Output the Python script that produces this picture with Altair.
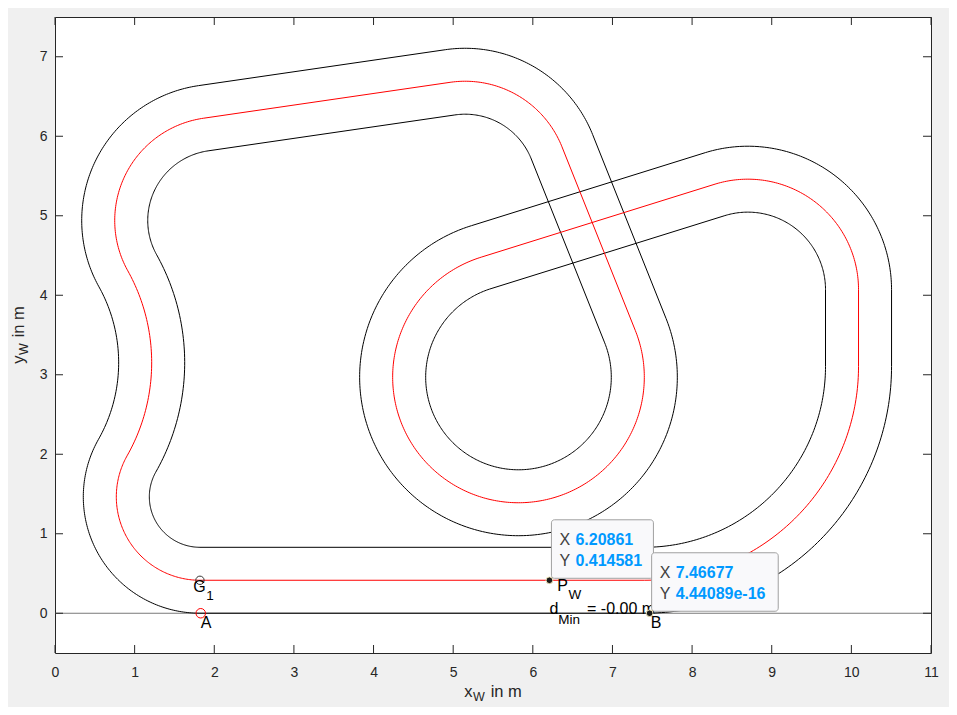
import numpy as np
import pandas as pd
import altair as alt

# ---------------- values ----------------
HALF_WIDTH = 0.414581          # centre line to lane edge (m)

# centre-line arcs in driving order: centre x, centre y, radius, start / end angle (deg)
# (end > start: counter-clockwise, end < start: clockwise; straights join the arcs)
ARC_CX = [7.40, 8.70, 5.82, 5.15, 2.05, -1.163, 1.82]
ARC_CY = [3.105, 4.07, 2.97, 5.383, 4.94, 3.152, 1.465]
ARC_R = [2.69, 1.39, 1.58, 1.309, 1.30, 2.377, 1.05]
ARC_START = [270.0, 0.0, 107.2, 21.7, 98.3, 29.1, 150.5]
ARC_END = [360.0, 107.2, 381.7, 98.3, 209.1, -29.5, 270.0]

POINT_A = [1.83, 0.0]
POINT_G1 = [1.82, 0.414581]
POINT_PW = [6.20861, 0.414581]
POINT_B = [7.46677, 4.44089e-16]
D_MIN_TEXT = "-0.00"

X_TICKS = [0, 1, 2, 3, 4, 5, 6, 7, 8, 9, 10, 11]
Y_TICKS = [0, 1, 2, 3, 4, 5, 6, 7]
X_RANGE = [0, 11]
Y_RANGE = [-0.5, 7.5]

# ---------------- styling ----------------
FONT = "Liberation Sans"
AXIS_COLOR = "#262626"
W, H = 876, 636
TICK_LEN = 8
NB = "\u00a0"

XS = alt.Scale(domain=X_RANGE, nice=False, zero=False)
YS = alt.Scale(domain=Y_RANGE, nice=False, zero=False)
XA = alt.Axis(values=X_TICKS, ticks=False, tickSize=0, domain=False, grid=False,
              labelFont=FONT, labelFontSize=14, labelColor=AXIS_COLOR, labelPadding=12,
              labelFlush=False, labelOverlap=False, title=None, format="d")
YA = alt.Axis(values=Y_TICKS, ticks=False, tickSize=0, domain=False, grid=False,
              labelFont=FONT, labelFontSize=14, labelColor=AXIS_COLOR, labelPadding=8,
              labelFlush=False, labelOverlap=False, title=None, format="d")


def ex(f="x"):
    return alt.X(f"{f}:Q", scale=XS, axis=XA)


def ey(f="y"):
    return alt.Y(f"{f}:Q", scale=YS, axis=YA)


def pt(p):
    return pd.DataFrame({"x": [p[0]], "y": [p[1]]})


# ---------------- track geometry (centre line and both edges) ----------------
rows = []
for name, side in [("left", 1), ("right", -1), ("centre", 0)]:
    k = 0
    first = None
    for cx, cy, r, a0, a1 in zip(ARC_CX, ARC_CY, ARC_R, ARC_START, ARC_END):
        d = 1 if a1 > a0 else -1
        rad = r - side * d * HALF_WIDTH
        n = int(abs(a1 - a0) / 1.0) + 2
        for a in np.linspace(a0, a1, n):
            t = np.radians(a)
            row = {"line": name, "i": k, "x": cx + rad * np.cos(t), "y": cy + rad * np.sin(t)}
            if first is None:
                first = dict(row)
            rows.append(row)
            k += 1
    first["i"] = k
    rows.append(first)
track_df = pd.DataFrame(rows)

layers = []

# zero line
layers.append(alt.Chart(pd.DataFrame({"y": [0.0]})).mark_rule(color="#7a7a7a", strokeWidth=1)
              .encode(y=ey()))

# track
layers.append(alt.Chart(track_df).mark_line(strokeWidth=1, clip=True).encode(
    x=ex(), y=ey(), order="i:Q", detail="line:N",
    color=alt.Color("line:N", scale=alt.Scale(domain=["left", "right", "centre"],
                                              range=["#000000", "#000000", "#ff0000"]),
                    legend=None)))

# markers A and G1
layers.append(alt.Chart(pt(POINT_A)).mark_point(shape="circle", size=90, filled=False,
                                                 color="#ff0000", strokeWidth=1, opacity=1)
              .encode(x=ex(), y=ey()))
layers.append(alt.Chart(pt(POINT_G1)).mark_point(shape="circle", size=70, filled=False,
                                                  color="#333333", strokeWidth=1, opacity=1)
              .encode(x=ex(), y=ey()))

# text width helper (Arial / Liberation Sans metrics)
CW = {"x": .5, "y": .5, "W": .944, " ": .278, NB: .278, "i": .222, "n": .556, "m": .833,
      "P": .667, "d": .556, "M": .833, "=": .584, "-": .333, "0": .556, ".": .278,
      "G": .778, "1": .556, "A": .667, "B": .667}


def tw(s, size):
    return sum(CW.get(c, .556) for c in s) * size


def rich(df, enc, pieces, dx0, dy0, angle=0, color="#000000"):
    """pieces: (text, font size, baseline shift, extra gap before)"""
    out = []
    dx = dx0
    for s, size, ddy, gap in pieces:
        dx += gap
        out.append(alt.Chart(df).mark_text(text=s, align="left", baseline="alphabetic",
                                           dx=dx, dy=dy0 + ddy, font=FONT, fontSize=size,
                                           color=color, angle=angle).encode(**enc))
        dx += tw(s, size)
    return out


ENC = dict(x=ex(), y=ey())
layers += rich(pt(POINT_A), ENC, [("A", 16, 0, 0)], 0, 14.3)
layers += rich(pt(POINT_B), ENC, [("B", 16, 0, 0)], 1, 14.3)
layers += rich(pt(POINT_G1), ENC, [("G", 16, 0, 0), ("1", 13.5, 7.7, 0.5)], -6.6, 12)
layers += rich(pt(POINT_PW), ENC, [("P", 16, 0, 0), ("W", 13.5, 7.6, 0.5)], 7.8, 10.7)
layers += rich(pt([POINT_PW[0], POINT_B[1]]), ENC,
               [("d", 16, 0, 0), ("Min", 13.5, 10, 0),
                (f"={NB}{D_MIN_TEXT}{NB}m", 16, 0, 7)], 0, 1)

# data tip dots
for p in (POINT_PW, POINT_B):
    layers.append(alt.Chart(pt(p)).mark_point(shape="circle", size=45, filled=True,
                                               fill="#1a1a1a", stroke="#efe6b8",
                                               strokeWidth=1, opacity=1)
                  .encode(x=ex(), y=ey()))

# data tips
for p, bw in ((POINT_PW, 102), (POINT_B, 126.6)):
    df = pt(p)
    layers.append(alt.Chart(df).mark_rect(xOffset=2, x2Offset=2 + bw, yOffset=-60.5, y2Offset=-2,
                                          fill="#f9f9fb", stroke="#a0a0a0", strokeWidth=1,
                                          cornerRadius=3)
                  .encode(x=ex(), x2=alt.X2("x"), y=ey(), y2=alt.Y2("y")))
    for lab, val, dy in (("X", p[0], -35), ("Y", p[1], -14.5)):
        layers.append(alt.Chart(df).mark_text(text=lab, align="left", baseline="alphabetic",
                                              dx=10, dy=dy, font=FONT, fontSize=16,
                                              color="#404040").encode(**ENC))
        layers.append(alt.Chart(df).mark_text(text=f"{val:.6g}", align="left",
                                              baseline="alphabetic", dx=26, dy=dy, font=FONT,
                                              fontSize=16, fontWeight="bold",
                                              color="#0099ff").encode(**ENC))

# inward ticks on all four sides
xt = pd.DataFrame({"x": X_TICKS})
yt = pd.DataFrame({"y": Y_TICKS})
layers.append(alt.Chart(xt).mark_rule(color=AXIS_COLOR, strokeWidth=1)
              .encode(x=ex(), y=alt.value(H), y2=alt.value(H - TICK_LEN)))
layers.append(alt.Chart(xt).mark_rule(color=AXIS_COLOR, strokeWidth=1)
              .encode(x=ex(), y=alt.value(0), y2=alt.value(TICK_LEN)))
layers.append(alt.Chart(yt).mark_rule(color=AXIS_COLOR, strokeWidth=1)
              .encode(y=ey(), x=alt.value(0), x2=alt.value(TICK_LEN)))
layers.append(alt.Chart(yt).mark_rule(color=AXIS_COLOR, strokeWidth=1)
              .encode(y=ey(), x=alt.value(W), x2=alt.value(W - TICK_LEN)))

# axis titles with subscripts
TITLE_PIECES_X = [("x", 16.5, 0, 0), ("W", 12.5, 4, 0.5), ("in", 16.5, 0, 6), ("m", 16.5, 0, 4.6)]
TITLE_PIECES_Y = [("y", 16.5, 0, 0), ("W", 12.5, 4, 0.5), ("in", 16.5, 0, 6), ("m", 16.5, 0, 4.6)]
tot_x = sum(tw(s, z) + g for s, z, _, g in TITLE_PIECES_X)
tot_y = sum(tw(s, z) + g for s, z, _, g in TITLE_PIECES_Y)
layers += rich(pd.DataFrame({"x": [sum(X_RANGE) / 2]}), dict(x=ex(), y=alt.value(680)),
               TITLE_PIECES_X, -tot_x / 2, 0, color=AXIS_COLOR)
layers += rich(pd.DataFrame({"y": [sum(Y_RANGE) / 2]}), dict(y=ey(), x=alt.value(-31)),
               TITLE_PIECES_Y, -tot_y / 2, 0, angle=270, color=AXIS_COLOR)

chart = alt.layer(*layers).properties(
    width=W, height=H,
    autosize=alt.AutoSizeParams(type="none"),
    padding={"left": 47, "top": 9, "right": 18, "bottom": 54},
    background="#f0f0f0",
).configure_view(fill="white", stroke=AXIS_COLOR, strokeWidth=1)

chart.save("out.html", embed_options={"renderer": "svg", "actions": False})
